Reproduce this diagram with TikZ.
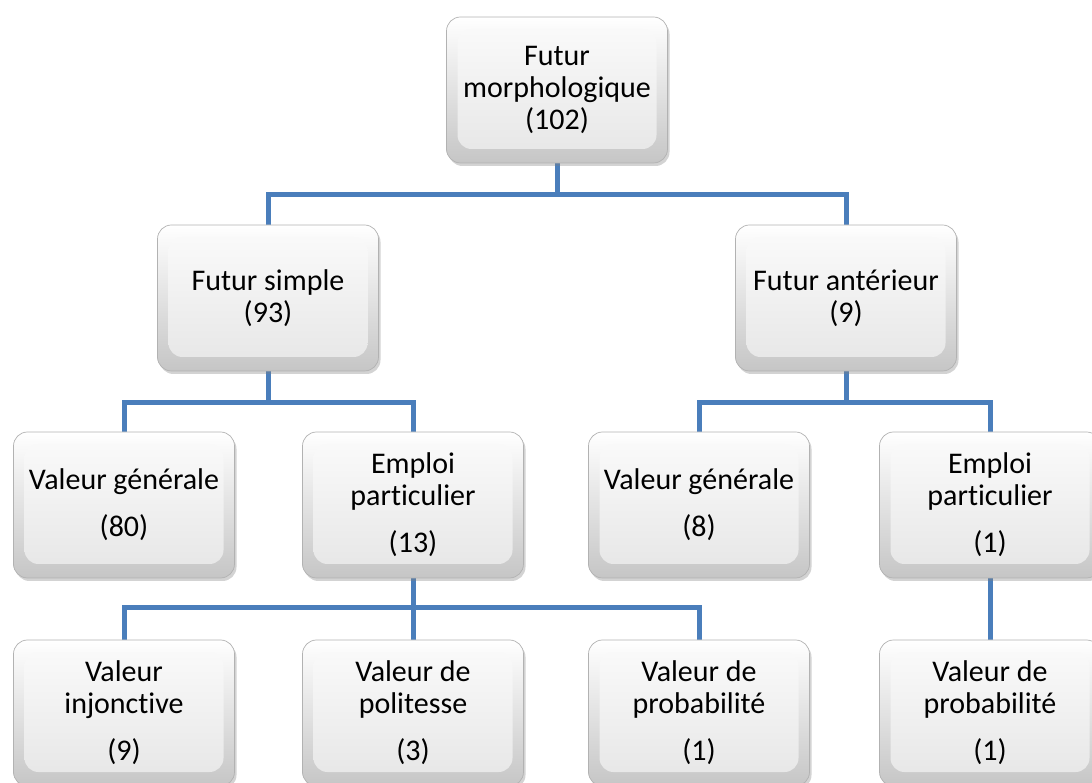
\documentclass[tikz,border=0pt]{standalone}
\usepackage{fontspec}
\setmainfont[Ligatures=NoCommon]{Carlito}
\usetikzlibrary{shadows,backgrounds}
\definecolor{linkblue}{RGB}{74,126,187}
\tikzset{
  bevelbox/.style={rectangle, rounded corners=14pt, minimum width=221pt, minimum height=146pt,
    top color=white, bottom color=gray!45, draw=gray!60, line width=0.7pt,
    drop shadow={shadow xshift=2pt, shadow yshift=-3pt, opacity=0.35},
    path picture={\shade[top color=gray!3, bottom color=gray!20]
      ([xshift=11pt,yshift=-12pt]path picture bounding box.north west) rectangle
      ([xshift=-11pt,yshift=14pt]path picture bounding box.south east);},
    align=center, font=\fontsize{30}{32}\selectfont, inner sep=0pt},
  conn/.style={draw=linkblue, line width=5pt}
}
\begin{document}
\begin{tikzpicture}[x=1pt,y=1pt]
\useasboundingbox (0,0) rectangle (1092,782);
\node[bevelbox] (top) at (557,692) {Futur\\morphologique\\(102)};
\node[bevelbox] (fs) at (268,484) {Futur simple\\(93)};
\node[bevelbox] (fa) at (846,484) {Futur antérieur\\(9)};
\node[bevelbox] (vg1) at (124,277) {Valeur générale\\[15pt](80)};
\node[bevelbox] (ep1) at (413,277) {Emploi\\particulier\\[15pt](13)};
\node[bevelbox] (vg2) at (699,277) {Valeur générale\\[15pt](8)};
\node[bevelbox] (ep2) at (990,277) {Emploi\\particulier\\[15pt](1)};
\node[bevelbox] (vi) at (124,69) {Valeur\\injonctive\\[15pt](9)};
\node[bevelbox] (vp) at (413,69) {Valeur de\\politesse\\[15pt](3)};
\node[bevelbox] (vpr1) at (699,69) {Valeur de\\probabilité\\[15pt](1)};
\node[bevelbox] (vpr2) at (990,69) {Valeur de\\probabilité\\[15pt](1)};
\coordinate (b1) at (0,587);
\coordinate (b2) at (0,379);
\coordinate (b3) at (0,174);
\begin{pgfonlayer}{background}
\draw[conn] (top.south) -- (top.south |- b1);
\draw[conn] (fs.north) |- (b1 -| fa.north) -- (fa.north);
\draw[conn] (fs.south) -- (fs.south |- b2);
\draw[conn] (vg1.north) |- (b2 -| ep1.north) -- (ep1.north);
\draw[conn] (fa.south) -- (fa.south |- b2);
\draw[conn] (vg2.north) |- (b2 -| ep2.north) -- (ep2.north);
\draw[conn] (ep1.south) -- (ep1.south |- b3);
\draw[conn] (vi.north) |- (b3 -| vpr1.north) -- (vpr1.north);
\draw[conn] (vp.north) -- (vp.north |- b3);
\draw[conn] (ep2.south) -- (vpr2.north);
\end{pgfonlayer}
\end{tikzpicture}
\end{document}
